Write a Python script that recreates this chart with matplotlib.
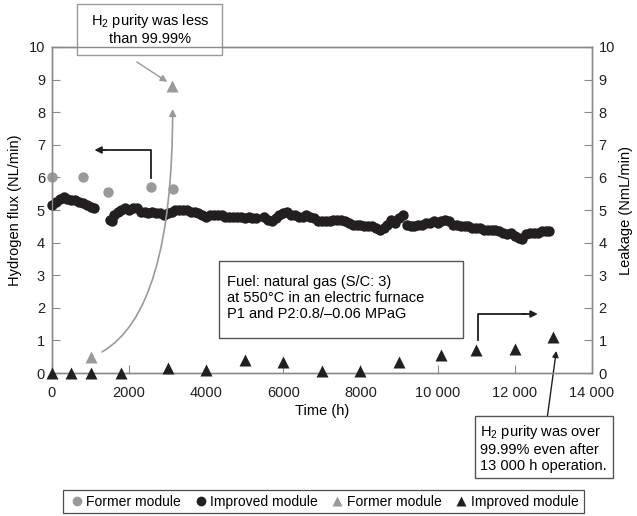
import matplotlib
matplotlib.use('Agg')
import matplotlib.pyplot as plt
from matplotlib.lines import Line2D
from matplotlib.patches import Rectangle

plt.rcParams['font.family'] = ['Liberation Sans', 'DejaVu Sans']
plt.rcParams['mathtext.fontset'] = 'custom'
plt.rcParams['mathtext.rm'] = 'Liberation Sans'
plt.rcParams['font.size'] = 10.5

GRAY = '#9a9a9a'
BLACK = '#231f20'
SPINE = '#8a8a8a'

# former module, hydrogen flux
former_t = [0, 800, 1450, 2560, 3130]
former_flux = [6.0, 6.0, 5.55, 5.7, 5.65]

# improved module, hydrogen flux
improved_t = [0, 100, 200, 300, 400, 500, 600, 700, 800, 900, 1000, 1100,
              1500, 1550, 1600, 1700, 1800, 1900, 2000, 2100, 2200, 2300, 2400,
              2500, 2600, 2700, 2800, 2900, 3000, 3100, 3200, 3300, 3400, 3500,
              3600, 3700, 3800, 3900, 4000, 4100, 4200, 4300, 4400, 4500, 4600,
              4700, 4800, 4900, 5000, 5100, 5200, 5300,
              5500, 5600, 5700, 5800, 5900, 6000, 6100, 6200, 6300, 6400, 6500,
              6600, 6700, 6800, 6900, 7000, 7100, 7200, 7300, 7400, 7500, 7600,
              7700, 7800, 7900, 8000, 8100, 8200, 8300, 8400, 8500, 8600, 8700,
              8800, 8900, 9000, 9100, 9200, 9300, 9400, 9500, 9600, 9700, 9800,
              9900, 10000, 10100, 10200, 10300, 10400, 10500, 10600, 10700,
              10800, 10900, 11000, 11100, 11200, 11300, 11400, 11500, 11600,
              11700, 11800, 11900, 12000, 12100, 12200, 12300, 12400, 12500,
              12600, 12700, 12800, 12900]
improved_flux = [5.15, 5.25, 5.35, 5.4, 5.35, 5.3, 5.3, 5.25, 5.2, 5.15, 5.1, 5.05,
                 4.7, 4.65, 4.85, 4.95, 5.0, 5.05, 5.0, 5.05, 5.05, 4.95, 4.95,
                 4.9, 4.95, 4.9, 4.9, 4.85, 4.9, 4.95, 5.0, 5.0, 5.0, 5.0,
                 4.95, 4.95, 4.9, 4.85, 4.8, 4.85, 4.85, 4.85, 4.85, 4.8, 4.8,
                 4.8, 4.8, 4.8, 4.75, 4.8, 4.75, 4.75,
                 4.8, 4.7, 4.65, 4.75, 4.85, 4.9, 4.95, 4.85, 4.85, 4.8, 4.8,
                 4.85, 4.8, 4.75, 4.65, 4.65, 4.65, 4.65, 4.7, 4.7, 4.7, 4.65,
                 4.6, 4.55, 4.55, 4.55, 4.5, 4.5, 4.5, 4.45, 4.4, 4.45, 4.55,
                 4.7, 4.6, 4.75, 4.85, 4.55, 4.5, 4.5, 4.55, 4.55, 4.6, 4.6,
                 4.65, 4.6, 4.65, 4.7, 4.65, 4.55, 4.55, 4.5, 4.5,
                 4.5, 4.45, 4.45, 4.45, 4.4, 4.4, 4.4, 4.4, 4.35,
                 4.3, 4.25, 4.3, 4.2, 4.15, 4.1, 4.25, 4.3, 4.3,
                 4.3, 4.35, 4.35, 4.35]

# leakage
former_leak_t = [1000, 3100]
former_leak = [0.5, 8.8]
improved_leak_t = [0, 500, 1000, 1800, 3000, 4000, 5000, 6000, 7000, 8000,
                   9000, 10100, 11000, 12000, 13000]
improved_leak = [0.0, 0.0, 0.0, 0.0, 0.15, 0.1, 0.4, 0.35, 0.05, 0.05,
                 0.35, 0.55, 0.7, 0.75, 1.1]

xticks = [0, 2000, 4000, 6000, 8000, 10000, 12000, 14000]
xticklabels = ['0', '2000', '4000', '6000', '8000', '10 000', '12 000', '14 000']

fig = plt.figure(figsize=(6.37, 5.16), dpi=100)
ax = fig.add_axes([0.0816, 0.277, 0.8474, 0.632])
ax2 = ax.twinx()

ax.plot(former_t, former_flux, 'o', color=GRAY, ms=7.5, mec='none', zorder=3,
        clip_on=False)
ax.plot(improved_t, improved_flux, 'o', color=BLACK, ms=7.5, mec='none', zorder=3,
        clip_on=False)
ax2.plot(former_leak_t, former_leak, '^', color=GRAY, ms=8.5, mec='none', zorder=3)
ax2.plot(improved_leak_t, improved_leak, '^', color=BLACK, ms=8.5, mec='none',
         zorder=3, clip_on=False)

for a in (ax, ax2):
    a.set_xlim(0, 14000)
    a.set_ylim(0, 10)
    a.set_yticks(range(0, 11))
    for s in a.spines.values():
        s.set_color(SPINE)
        s.set_linewidth(1.0)
    a.tick_params(direction='in', length=6, color=SPINE, labelsize=10.5,
                  labelcolor=BLACK, pad=5)

ax.set_xticks(xticks)
ax.set_xticklabels(xticklabels)
ax.tick_params(axis='x', pad=9)
ax.set_xlabel('Time (h)', fontsize=10.5, labelpad=3)
ax.set_ylabel('Hydrogen flux (NL/min)', fontsize=10.5, labelpad=5)
ax2.set_ylabel('Leakage (NmL/min)', fontsize=10.5, labelpad=3)

# top note box
ax.add_patch(Rectangle((650, 9.75), 3750, 1.57, fc='white', ec=GRAY, lw=1,
                       clip_on=False, zorder=5))
ax.text(2540, 10.55, 'H$_\\mathregular{2}$ purity was less\nthan 99.99%',
        ha='center', va='center', linespacing=1.2, zorder=6)
ax.annotate('', xy=(2990, 8.93), xytext=(2200, 9.54),
            arrowprops=dict(arrowstyle='-|>', color=GRAY, lw=1,
                            shrinkA=0, shrinkB=0, mutation_scale=10))
ax.annotate('', xy=(3130, 8.1), xytext=(1300, 0.65),
            arrowprops=dict(arrowstyle='-|>', color=GRAY, lw=1.2,
                            connectionstyle='angle3,angleA=30,angleB=90',
                            shrinkA=0, shrinkB=0, mutation_scale=10))

# black direction arrows
ax.plot([2565, 2565, 1300], [5.98, 6.84, 6.84], color=BLACK, lw=1.3)
ax.annotate('', xy=(1100, 6.84), xytext=(1400, 6.84),
            arrowprops=dict(arrowstyle='-|>', color=BLACK, lw=1.3,
                            shrinkA=0, shrinkB=0, mutation_scale=10))
ax.plot([11040, 11040, 12300], [1.01, 1.81, 1.81], color=BLACK, lw=1.3)
ax.annotate('', xy=(12600, 1.81), xytext=(12200, 1.81),
            arrowprops=dict(arrowstyle='-|>', color=BLACK, lw=1.3,
                            shrinkA=0, shrinkB=0, mutation_scale=10))

# conditions box
ax.add_patch(Rectangle((4330, 1.07), 6340, 2.37, fc='white', ec='#555555', lw=1,
                       zorder=5))
ax.text(4530, 2.3, 'Fuel: natural gas (S/C: 3)\nat 550°C in an electric furnace\n'
        'P1 and P2:0.8/\u20130.06 MPaG', ha='left', va='center',
        linespacing=1.2, zorder=6)

# bottom-right note box
ax.add_patch(Rectangle((10960, -3.22), 3600, 1.9, fc='white', ec='#555555', lw=1,
                       clip_on=False, zorder=5))
ax.text(11090, -2.3, 'H$_\\mathregular{2}$ purity was over\n99.99% even after\n'
        '13 000 h operation.', ha='left', va='center', linespacing=1.2,
        clip_on=False, zorder=6)
ax.annotate('', xy=(13080, 0.68), xytext=(12850, -1.32), annotation_clip=False,
            arrowprops=dict(arrowstyle='-|>', color=BLACK, lw=1,
                            shrinkA=0, shrinkB=0, mutation_scale=9))

handles = [
    Line2D([], [], marker='o', ls='none', color=GRAY, mec='none', ms=7),
    Line2D([], [], marker='o', ls='none', color=BLACK, mec='none', ms=7),
    Line2D([], [], marker='^', ls='none', color=GRAY, mec='none', ms=7),
    Line2D([], [], marker='^', ls='none', color=BLACK, mec='none', ms=7),
]
labels = ['Former module', 'Improved module', 'Former module', 'Improved module']
leg = fig.legend(handles, labels, loc='center', bbox_to_anchor=(0.508, 0.028),
                 ncol=4, frameon=True, fancybox=False, fontsize=10,
                 handletextpad=0.1, columnspacing=0.8, handlelength=1.2,
                 borderpad=0.35)
leg.get_frame().set_edgecolor(BLACK)
leg.get_frame().set_linewidth(0.9)

fig.savefig('out.png', dpi=100)
